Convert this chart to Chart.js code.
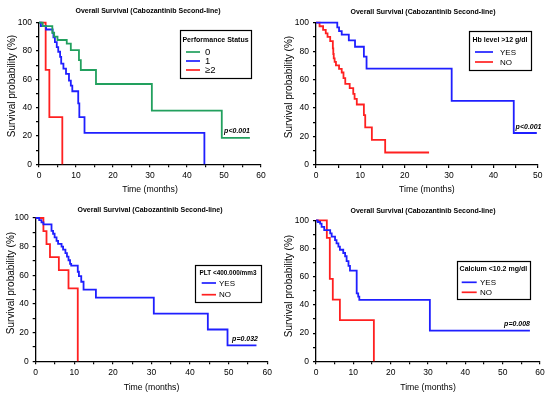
<!DOCTYPE html>
<html>
<head>
<meta charset="utf-8">
<script src="https://cdn.jsdelivr.net/npm/chart.js@4.4.0/dist/chart.umd.min.js"></script>
<style>
  body { margin: 0; background: #fff; }
  #wrap { position: relative; width: 550px; height: 396px; }
  #wrap canvas { position: absolute; }
</style>
</head>
<body>
<div id="wrap">
  <canvas id="c1" width="275" height="198" style="left:0;top:0"></canvas>
  <canvas id="c2" width="275" height="198" style="left:275px;top:0"></canvas>
  <canvas id="c3" width="275" height="198" style="left:0;top:198px"></canvas>
  <canvas id="c4" width="275" height="198" style="left:275px;top:198px"></canvas>
</div>
<script>
// Kaplan-Meier data (time in months, survival in %)
const ps0Time = [0, 1.0, 3.6, 4.1, 5.0, 7.5, 8.6, 10.8, 11.3, 15.4, 30.5, 49.4, 57.0];
const ps0Surv = [100, 97.6, 92.9, 90.1, 87.8, 85.2, 80.7, 73.6, 66.6, 56.7, 37.9, 18.6, 18.6];
const ps1Time = [0, 0.5, 1.9, 3.7, 3.9, 4.3, 4.8, 5.2, 5.7, 6.0, 6.6, 7.3, 8.1, 8.6, 9.0, 10.6, 10.9, 12.3, 44.7];
const ps1Surv = [100, 97.6, 95.2, 92.8, 89.6, 86.3, 82.7, 79.5, 75.9, 71.1, 67.5, 63.9, 59.1, 55.5, 51.6, 43.0, 33.3, 22.2, 0];
const ps2Time = [0, 1.8, 2.8, 6.3];
const ps2Surv = [100, 66.7, 33.3, 0];

const hbYesTime = [0, 4.8, 5.2, 5.8, 7.4, 8.8, 10.8, 11.4, 30.6, 44.6, 49.8];
const hbYesSurv = [100, 96.7, 94.1, 91.6, 87.6, 83.1, 76.1, 67.7, 45.0, 22.5, 22.5];
const hbNoTime = [0, 0.8, 1.6, 2.2, 2.6, 3.2, 3.8, 3.9, 4.0, 4.2, 4.5, 5.2, 5.8, 6.2, 6.6, 7.6, 8.4, 8.7, 9.2, 10.8, 11.1, 12.6, 15.6, 25.5];
const hbNoSurv = [100, 97.5, 95, 92.5, 90, 87, 82, 78, 75, 72.5, 70, 67.5, 65, 61, 57, 54, 50, 46.5, 42.5, 35, 26.5, 17.7, 8.8, 8.8];

const pltYesTime = [0, 0.9, 1.5, 2.0, 4.1, 4.5, 4.9, 5.4, 5.8, 6.7, 7.1, 7.7, 8.1, 8.5, 8.9, 9.2, 10.9, 11.2, 11.8, 12.4, 15.6, 30.6, 44.6, 49.7, 57.2];
const pltYesSurv = [100, 98.5, 97, 95.5, 91, 89, 86.5, 84, 82, 80, 78, 75.5, 73, 70.5, 68, 66.7, 62.5, 59.5, 55.5, 50, 44.4, 33.3, 22.2, 11.1, 11.1];
const pltNoTime = [0, 2.0, 2.8, 3.7, 6.0, 8.5, 10.9];
const pltNoSurv = [100, 90.9, 81.8, 72.7, 63.6, 50.9, 0];

const caYesTime = [0, 0.45, 1.1, 1.5, 2.2, 3.8, 4.2, 5.1, 5.5, 6.0, 6.4, 7.3, 7.8, 8.2, 8.7, 9.1, 10.9, 11.3, 11.6, 30.5, 57.3];
const caYesSurv = [100, 98.8, 97.6, 95.3, 93.0, 90.7, 88.4, 86.0, 83.7, 81.4, 79.1, 76.8, 74.5, 71.1, 67.7, 64.3, 48.2, 45.9, 43.6, 21.8, 21.8];
const caNoTime = [0, 2.9, 3.7, 4.5, 6.4, 15.5];
const caNoSurv = [100, 87.5, 58.4, 43.8, 29.2, 0];

const chartTitle = 'Overall Survival (Cabozantinib Second-line)';
const FONT = "'Liberation Sans', Arial, sans-serif";
const GREEN = '#22a05e';
const BLUE = '#1f1fff';
const RED = '#ff2020';

function toPoints(times, surv) {
    return times.map((t, i) => ({ x: t, y: surv[i] }));
}

// Draws the title, the framed legend and the p-value
const annotations = {
    id: 'annotations',
    afterDraw(chart, args, o) {
        const ctx = chart.ctx;
        const b = o.box;
        ctx.save();
        ctx.fillStyle = '#000';
        ctx.textAlign = 'center';
        ctx.textBaseline = 'middle';
        ctx.font = 'bold 7px ' + FONT;
        ctx.fillText(chartTitle, o.titleX, o.titleY);

        // y axis title
        ctx.save();
        ctx.translate(o.yTitleX, o.yTitleY);
        ctx.rotate(-Math.PI / 2);
        ctx.font = '10px ' + FONT;
        ctx.fillText('Survival probability (%)', 0, 0);
        ctx.restore();

        // legend box
        ctx.fillStyle = '#fff';
        ctx.fillRect(b.x, b.y, b.w, b.h);
        ctx.strokeStyle = '#000';
        ctx.lineWidth = 1.2;
        ctx.strokeRect(Math.round(b.x) + 0.5, Math.round(b.y) + 0.5, Math.round(b.w), Math.round(b.h));
        ctx.fillStyle = '#000';
        ctx.font = 'bold ' + o.legendTitleSize + 'px ' + FONT;
        ctx.fillText(o.legendTitle, b.x + b.w / 2, b.titleY);

        chart.data.datasets.forEach((ds, i) => {
            const y = b.entryY[i];
            ctx.strokeStyle = ds.borderColor;
            ctx.lineWidth = 1.7;
            ctx.beginPath();
            ctx.moveTo(b.lineX[0], y);
            ctx.lineTo(b.lineX[1], y);
            ctx.stroke();
            ctx.fillStyle = '#000';
            ctx.textAlign = 'left';
            ctx.font = o.labelSize + 'px ' + FONT;
            ctx.fillText(ds.label, b.labelX, y + 0.5);
        });

        ctx.font = 'italic bold 7px ' + FONT;
        ctx.textAlign = 'right';
        ctx.fillText(o.pText, o.pX, o.pY);
        ctx.restore();
    }
};

function kmChart(id, cfg) {
    const area = cfg.area;
    const tickFont = { family: FONT, size: 8.5 };

    return new Chart(document.getElementById(id), {
        type: 'line',
        data: {
            datasets: cfg.series.map(s => ({
                label: s.label,
                data: toPoints(s.time, s.surv),
                borderColor: s.color,
                borderWidth: 1.8,
                stepped: true,
                pointRadius: 0,
                fill: false,
                clip: false
            }))
        },
        options: {
            responsive: false,
            animation: false,
            devicePixelRatio: 1,
            layout: {
                padding: { left: 0, top: area.top, right: 275 - area.right, bottom: 0 }
            },
            plugins: {
                legend: { display: false },
                tooltip: { enabled: false },
                annotations: cfg.annot
            },
            scales: {
                x: {
                    type: 'linear',
                    min: 0,
                    max: cfg.xMax,
                    afterFit: s => { s.height = 198 - area.bottom; },
                    ticks: {
                        stepSize: 5,
                        autoSkip: false,
                        maxRotation: 0,
                        padding: 3,
                        color: '#000',
                        font: tickFont,
                        callback: v => (v % 10 === 0 ? v : '')
                    },
                    grid: { drawOnChartArea: false, color: '#000', tickLength: 3, lineWidth: 1.2 },
                    border: { color: '#000', width: 1.3 },
                    title: {
                        display: true,
                        text: 'Time (months)',
                        color: '#000',
                        font: { family: FONT, size: 8.7 },
                        padding: { top: 0, bottom: 3 }
                    }
                },
                y: {
                    min: 0,
                    max: 100,
                    afterFit: s => { s.width = area.left; },
                    ticks: {
                        stepSize: 10,
                        autoSkip: false,
                        padding: 4,
                        color: '#000',
                        font: tickFont,
                        callback: v => (v % 20 === 0 ? v : '')
                    },
                    grid: { drawOnChartArea: false, color: '#000', tickLength: 3, lineWidth: 1.2 },
                    border: { color: '#000', width: 1.3 }
                }
            }
        },
        plugins: [annotations]
    });
}

kmChart('c1', {
    area: { left: 39, right: 261, top: 22.7, bottom: 164.3 },
    xMax: 60,
    series: [
        { label: '0', time: ps0Time, surv: ps0Surv, color: GREEN },
        { label: '1', time: ps1Time, surv: ps1Surv, color: BLUE },
        { label: '\u22652', time: ps2Time, surv: ps2Surv, color: RED }
    ],
    annot: {
        titleX: 148, titleY: 11,
        yTitleX: 12.5, yTitleY: 86,
        legendTitle: 'Performance Status', legendTitleSize: 7, labelSize: 9.5,
        box: { x: 180, y: 30, w: 71, h: 48, titleY: 40, entryY: [52, 61, 70], lineX: [186, 200], labelX: 205 },
        pText: 'p<0.001', pX: 250, pY: 131
    }
});

kmChart('c2', {
    area: { left: 41, right: 262.7, top: 22.7, bottom: 165 },
    xMax: 50,
    series: [
        { label: 'YES', time: hbYesTime, surv: hbYesSurv, color: BLUE },
        { label: 'NO', time: hbNoTime, surv: hbNoSurv, color: RED }
    ],
    annot: {
        titleX: 148, titleY: 12,
        yTitleX: 14, yTitleY: 87,
        legendTitle: 'Hb level >12 g/dl', legendTitleSize: 7, labelSize: 8,
        box: { x: 194, y: 31, w: 62, h: 39, titleY: 40, entryY: [52, 62], lineX: [200, 218], labelX: 225 },
        pText: 'p<0.001', pX: 266.5, pY: 126.7
    }
});

kmChart('c3', {
    area: { left: 35.7, right: 269.7, top: 20, bottom: 163.3 },
    xMax: 60,
    series: [
        { label: 'YES', time: pltYesTime, surv: pltYesSurv, color: BLUE },
        { label: 'NO', time: pltNoTime, surv: pltNoSurv, color: RED }
    ],
    annot: {
        titleX: 150, titleY: 12.3,
        yTitleX: 11, yTitleY: 85,
        legendTitle: 'PLT <400.000/mm3', legendTitleSize: 6.4, labelSize: 8,
        box: { x: 195, y: 66.7, w: 66, h: 36.6, titleY: 75, entryY: [85, 96.7], lineX: [201.7, 216], labelX: 219 },
        pText: 'p=0.032', pX: 258, pY: 140.7
    }
});

kmChart('c4', {
    area: { left: 41, right: 265, top: 22.3, bottom: 163.3 },
    xMax: 60,
    series: [
        { label: 'YES', time: caYesTime, surv: caYesSurv, color: BLUE },
        { label: 'NO', time: caNoTime, surv: caNoSurv, color: RED }
    ],
    annot: {
        titleX: 148, titleY: 12.7,
        yTitleX: 14, yTitleY: 88,
        legendTitle: 'Calcium <10.2 mg/dl', legendTitleSize: 7, labelSize: 8,
        box: { x: 181.7, y: 63.3, w: 73.3, h: 38.4, titleY: 71, entryY: [84.3, 94.3], lineX: [186.7, 201.7], labelX: 205 },
        pText: 'p=0.008', pX: 255, pY: 126
    }
});
</script>
</body>
</html>
